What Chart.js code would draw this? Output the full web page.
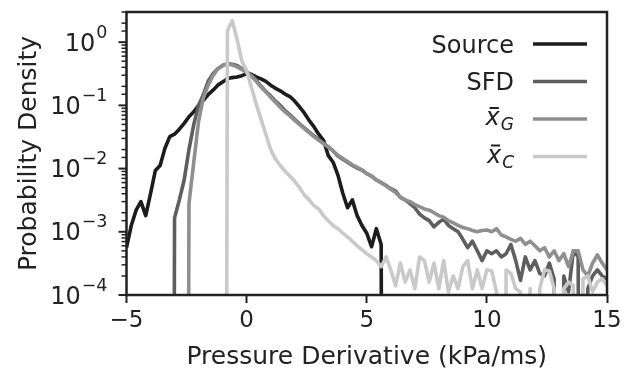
<!DOCTYPE html>
<html>
<head>
<meta charset="utf-8">
<script src="https://cdn.jsdelivr.net/npm/chart.js@4/dist/chart.umd.min.js"></script>
<style>
  body { margin: 0; background: #fff; }
  canvas { display: block; }
</style>
</head>
<body>
<canvas id="pdfChart" width="631" height="368"></canvas>
<script>
// sample positions (kPa/ms)
const pressureDeriv = [
  -5, -4.8, -4.6, -4.4, -4.2, -4, -3.8, -3.6, -3.4, -3.2,
  -3, -2.8, -2.6, -2.4, -2.2, -2, -1.8, -1.6, -1.4, -1.2,
  -1, -0.8, -0.6, -0.4, -0.2, 0, 0.2, 0.4, 0.6, 0.8,
  1, 1.2, 1.4, 1.6, 1.8, 2, 2.2, 2.4, 2.6, 2.8,
  3, 3.2, 3.4, 3.6, 3.8, 4, 4.2, 4.4, 4.6, 4.8,
  5, 5.2, 5.4, 5.6, 5.8, 6, 6.2, 6.4, 6.6, 6.8,
  7, 7.2, 7.4, 7.6, 7.8, 8, 8.2, 8.4, 8.6, 8.8,
  9, 9.2, 9.4, 9.6, 9.8, 10, 10.2, 10.4, 10.6, 10.8,
  11, 11.2, 11.4, 11.6, 11.8, 12, 12.2, 12.4, 12.6, 12.8,
  13, 13.2, 13.4, 13.6, 13.8, 14, 14.2, 14.4, 14.6, 14.8,
  15
];

// probability densities (1e-30 = empty bin)
const sourcePdf = [
  5.6e-4, 1.26e-3, 2.2e-3, 3.0e-3, 1.8e-3, 4.0e-3, 9.3e-3, 1.12e-2, 2.1e-2, 3.2e-2,
  3.5e-2, 4.2e-2, 5.2e-2, 6.6e-2, 7.9e-2, 0.1, 0.12, 0.148, 0.174, 0.209,
  0.234, 0.263, 0.275, 0.282, 0.295, 0.316, 0.309, 0.282, 0.263, 0.24,
  0.209, 0.186, 0.17, 0.151, 0.138, 0.117, 0.095, 0.076, 0.058, 0.046,
  0.035, 0.028, 0.016, 0.0126, 0.0079, 0.0041, 0.0024, 0.0032, 0.0018, 0.00126,
  0.00095, 0.00058, 0.00112, 0.00063, 1e-30, null, null, null, null, null,
  null, null, null, null, null, null, null, null, null, null,
  null, null, null, null, null, null, null, null, null, null,
  null, null, null, null, null, null, null, null, null, null,
  null, null, null, null, null, null, null, null, null, null,
  null
];

const sfdPdf = [
  null, null, null, null, null, null, null, null, null, 1e-30,
  1.66e-3, 3.2e-3, 6.6e-3, 0.02, 0.05, 0.1, 0.148, 0.24, 0.316, 0.38,
  0.427, 0.457, 0.447, 0.427, 0.38, 0.339, 0.302, 0.251, 0.2, 0.166,
  0.141, 0.117, 0.1, 0.083, 0.071, 0.06, 0.051, 0.044, 0.038, 0.033,
  0.029, 0.025, 0.022, 0.019, 0.0158, 0.0141, 0.0126, 0.0112, 0.0102, 0.0095,
  0.0083, 0.0076, 0.0066, 0.006, 0.0054, 0.0048, 0.0044, 0.0035, 0.0032, 0.0028,
  0.0024, 0.0019, 0.00166, 0.0015, 0.0012, 0.00141, 0.00158, 0.00126, 0.00112, 0.001,
  7.6e-4, 5.6e-4, 7.1e-4, 5.0e-4, 3.5e-4, 5.0e-4, 4.5e-4, 5.0e-4, 4.0e-4, 4.5e-4,
  6.3e-4, 3.5e-4, 1.7e-4, 4.0e-4, 2.5e-4, 3.5e-4, 2.2e-4, 2.0e-4, 3.2e-4, 1.8e-4,
  1e-30, 2.0e-4, 1.12e-4, 5.0e-4, 4.0e-4, 1e-30, 1.26e-4, 2.0e-4, 2.5e-4, 2.0e-4,
  1.8e-4
];

const xgPdf = [
  null, null, null, null, null, null, null, null, null, null,
  null, null, 1e-30, 2.8e-3, 0.0126, 0.056, 0.132, 0.209, 0.295, 0.38,
  0.427, 0.457, 0.437, 0.407, 0.372, 0.331, 0.288, 0.24, 0.195, 0.162,
  0.135, 0.112, 0.093, 0.079, 0.068, 0.058, 0.05, 0.043, 0.037, 0.032,
  0.028, 0.025, 0.022, 0.019, 0.0162, 0.0145, 0.0129, 0.0115, 0.0105, 0.0095,
  0.0083, 0.0076, 0.0066, 0.006, 0.0054, 0.0047, 0.0042, 0.0035, 0.0032, 0.003,
  0.0027, 0.0025, 0.0023, 0.0022, 0.002, 0.0018, 0.0017, 0.0015, 0.00138, 0.00126,
  1.17e-3, 1.12e-3, 1.05e-3, 1.0e-3, 1.05e-3, 1.07e-3, 1.0e-3, 1.12e-3, 8.9e-4, 8.3e-4,
  7.6e-4, 7.1e-4, 7.9e-4, 6.3e-4, 7.1e-4, 6.0e-4, 5.0e-4, 5.6e-4, 4.0e-4, 5.0e-4,
  3.5e-4, 4.5e-4, 2.8e-4, 5.0e-4, 5.0e-4, 2.5e-4, 2.0e-4, 3.2e-4, 4.3e-4, 3.2e-4,
  2.5e-4
];

const xcPdf = [
  null, null, null, null, null, null, null, null, null, null,
  null, null, null, null, null, null, null, null, null, null,
  1e-30, 1.5, 2.19, 1.12, 0.5, 0.355, 0.191, 0.105, 0.06, 0.035,
  0.02, 0.0141, 0.0112, 0.0091, 0.0076, 0.0063, 0.005, 0.0038, 0.0032, 0.0026,
  0.0023, 0.0018, 0.0015, 0.00126, 0.00112, 9.5e-4, 8.3e-4, 7.1e-4, 6.0e-4, 5.2e-4,
  4.5e-4, 4.0e-4, 3.5e-4, 2.8e-4, 4.0e-4, 2.5e-4, 1.4e-4, 3.2e-4, 1.6e-4, 2.5e-4,
  1.26e-4, 4.0e-4, 3.5e-4, 1.6e-4, 3.2e-4, 1.26e-4, 3.5e-4, 1.12e-4, 2.0e-4, 1.26e-4,
  2.8e-4, 3.5e-4, 1.26e-4, 2.5e-4, 1.26e-4, 2.5e-4, 2.4e-4, 1.12e-4, 1e-30, 2.5e-4,
  2.2e-4, 1.26e-4, 1.12e-4, 1e-30, 1.26e-4, 1e-30, 1.26e-4, 2.5e-4, 2.4e-4, 1.26e-4,
  1e-30, 1.26e-4, 1.6e-4, 1.4e-4, 1e-30, 1.8e-4, 2.0e-4, 1.12e-4, 1.6e-4, 1.8e-4,
  1.4e-4
];

const seriesNames = ["Source", "SFD", "x_G", "x_C"];
const seriesColors = ["#1c1c1c", "#5e5e5e", "#8f8f8f", "#c9c9c9"];
const xTicks = [-5, 0, 5, 10, 15];

const ink = "#222";
const FONT = "DejaVu Sans";
Chart.defaults.font.family = FONT;
Chart.defaults.color = ink;

function toPoints(ys) {
  return pressureDeriv.map((x, i) => ({ x: x, y: ys[i] }));
}

const allSeries = [sourcePdf, sfdPdf, xgPdf, xcPdf];
const datasets = allSeries.map((ys, i) => ({
  label: seriesNames[i],
  data: toPoints(ys),
  borderColor: seriesColors[i],
  borderWidth: 3.6,
  borderJoinStyle: "round",
  pointRadius: 0,
  tension: 0,
  spanGaps: false,
  order: allSeries.length - i
}));

// draws the frame, y ticks with 10^n labels and the right-hand legend
const frameAndLegend = {
  id: "frameAndLegend",
  afterDraw(chart) {
    const { ctx, chartArea: a, scales: { y } } = chart;
    ctx.save();
    ctx.strokeStyle = ink;
    ctx.fillStyle = ink;

    y.ticks.forEach(t => {
      const py = y.getPixelForValue(t.value);
      const ex = Math.log10(t.value);
      const major = Math.abs(ex - Math.round(ex)) < 1e-6;
      ctx.lineWidth = major ? 2 : 1.5;
      ctx.beginPath();
      ctx.moveTo(a.left - (major ? 8 : 5), py);
      ctx.lineTo(a.left, py);
      ctx.stroke();
      if (!major) return;
      const e = Math.round(ex);
      const sup = e < 0 ? "\u2212" + (-e) : String(e);
      ctx.textAlign = "right";
      ctx.textBaseline = "alphabetic";
      ctx.font = "17.5px " + FONT;
      const sw = ctx.measureText(sup).width;
      ctx.fillText(sup, a.left - 19, py - 4.5);
      ctx.font = "24px " + FONT;
      ctx.fillText("10", a.left - 20 - sw, py + 8.7);
    });

    ctx.lineWidth = 2.5;
    ctx.strokeRect(a.left, a.top, a.right - a.left, a.bottom - a.top);

    const textRight = a.right - 93;
    seriesNames.forEach((name, i) => {
      const cy = a.top + 32 + i * 37.5;
      ctx.strokeStyle = seriesColors[i];
      ctx.lineWidth = 3.6;
      ctx.beginPath();
      ctx.moveTo(a.right - 74, cy);
      ctx.lineTo(a.right - 20, cy);
      ctx.stroke();

      ctx.fillStyle = ink;
      ctx.textAlign = "right";
      ctx.textBaseline = "alphabetic";
      if (name.indexOf("_") < 0) {
        ctx.font = "24px " + FONT;
        ctx.fillText(name, textRight, cy + 8.7);
      } else {
        const [base, sub] = name.split("_");
        ctx.font = "italic 17px " + FONT;
        const subW = ctx.measureText(sub).width;
        ctx.fillText(sub, textRight, cy + 11);
        ctx.font = "italic 24px " + FONT;
        const bw = ctx.measureText(base).width;
        const bx = textRight - subW - 1;
        ctx.fillText(base, bx, cy + 6);
        // bar over the x
        ctx.strokeStyle = ink;
        ctx.lineWidth = 2;
        ctx.beginPath();
        ctx.moveTo(bx - bw + 4, cy - 11);
        ctx.lineTo(bx - 1, cy - 11);
        ctx.stroke();
      }
    });
    ctx.restore();
  }
};

new Chart(document.getElementById("pdfChart"), {
  type: "line",
  data: { datasets: datasets },
  plugins: [frameAndLegend],
  options: {
    responsive: false,
    animation: false,
    layout: { padding: { top: 12, right: 24, left: 0, bottom: 0 } },
    plugins: { legend: { display: false }, tooltip: { enabled: false } },
    scales: {
      x: {
        type: "linear",
        min: -5,
        max: 15,
        afterBuildTicks: s => { s.ticks = xTicks.map(v => ({ value: v })); },
        afterFit: s => { s.height = 73; },
        ticks: {
          font: { size: 23 },
          color: ink,
          padding: 4,
          maxRotation: 0,
          callback: v => (v < 0 ? "\u2212" : "") + Math.abs(v)
        },
        grid: { drawOnChartArea: false, tickLength: 8, tickWidth: 2, tickColor: ink },
        border: { display: false },
        title: {
          display: true,
          text: "Pressure Derivative (kPa/ms)",
          font: { size: 25 },
          color: ink,
          padding: { top: 0, bottom: -4 }
        }
      },
      y: {
        type: "logarithmic",
        min: 1e-4,
        max: 3,
        afterFit: s => { s.width = 126.5; },
        ticks: { display: false },
        grid: { display: false },
        border: { display: false },
        title: {
          display: true,
          text: "Probability Density",
          font: { size: 25 },
          color: ink,
          padding: { top: 14, bottom: 0 }
        }
      }
    }
  }
});
</script>
</body>
</html>
